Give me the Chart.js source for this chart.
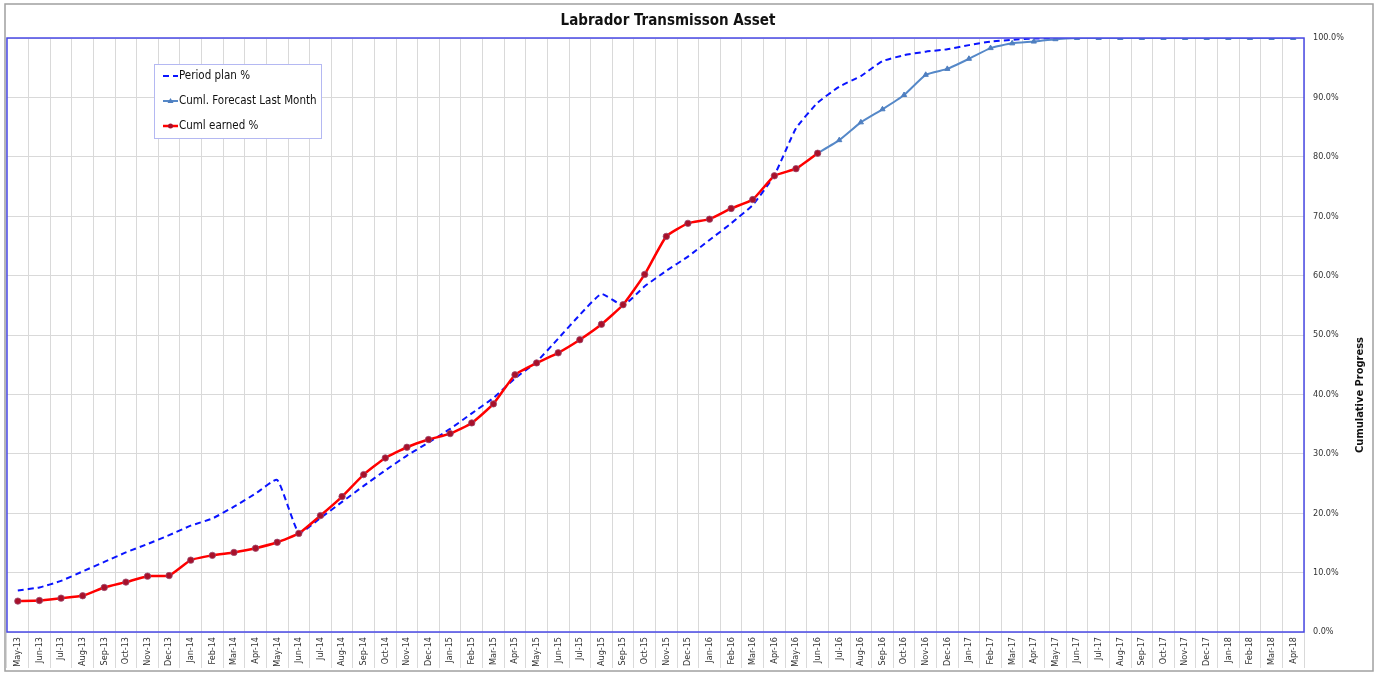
<!DOCTYPE html>
<html>
<head>
<meta charset="utf-8">
<script src="https://cdn.jsdelivr.net/npm/chart.js@4"></script>
<style>
  html, body { margin: 0; padding: 0; background: #fff; }
  #wrap { position: relative; width: 1378px; height: 673px; }
</style>
</head>
<body>
<div id="wrap"><canvas id="progressChart" width="1378" height="673"></canvas></div>
<script>
var FONT = "'Liberation Sans Narrow', 'DejaVu Sans Condensed', 'Open Sans', sans-serif";

var months = [
  'May-13','Jun-13','Jul-13','Aug-13','Sep-13','Oct-13','Nov-13','Dec-13',
  'Jan-14','Feb-14','Mar-14','Apr-14','May-14','Jun-14','Jul-14','Aug-14','Sep-14','Oct-14','Nov-14','Dec-14',
  'Jan-15','Feb-15','Mar-15','Apr-15','May-15','Jun-15','Jul-15','Aug-15','Sep-15','Oct-15','Nov-15','Dec-15',
  'Jan-16','Feb-16','Mar-16','Apr-16','May-16','Jun-16','Jul-16','Aug-16','Sep-16','Oct-16','Nov-16','Dec-16',
  'Jan-17','Feb-17','Mar-17','Apr-17','May-17','Jun-17','Jul-17','Aug-17','Sep-17','Oct-17','Nov-17','Dec-17',
  'Jan-18','Feb-18','Mar-18','Apr-18'
];

// Period plan % (cumulative)
var planPct = [
  7.0, 7.5, 8.6, 10.2, 11.8, 13.4, 14.8, 16.3,
  17.9, 19.1, 21.1, 23.3, 25.6, 16.7, 19.2, 21.9, 24.6, 27.2, 29.7, 31.9,
  34.2, 36.8, 39.4, 42.7, 45.5, 49.4, 53.4, 56.9, 55.0, 58.2, 60.8, 63.2,
  66.0, 68.8, 71.9, 76.9, 84.8, 89.1, 91.8, 93.6, 96.1, 97.1, 97.7, 98.1,
  98.8, 99.4, 99.7, 99.9, 100, 100, 100, 100, 100, 100, 100, 100,
  100, 100, 100, 100
];

// Cuml. Forecast Last Month (starts at the last earned month)
var forecastPct = [
  null, null, null, null, null, null, null, null,
  null, null, null, null, null, null, null, null, null, null, null, null,
  null, null, null, null, null, null, null, null, null, null, null, null,
  null, null, null, null, null, 80.6, 82.8, 85.8, 88.0, 90.4, 93.8, 94.8,
  96.5, 98.3, 99.1, 99.4, 99.8, 100, 100, 100, 100, 100, 100, 100,
  100, 100, 100, 100
];

// Cuml earned %
var earnedPct = [
  5.2, 5.3, 5.7, 6.1, 7.5, 8.4, 9.4, 9.5,
  12.1, 12.9, 13.4, 14.1, 15.1, 16.6, 19.6, 22.8, 26.5, 29.3, 31.1, 32.4,
  33.4, 35.2, 38.4, 43.3, 45.3, 47.0, 49.2, 51.8, 55.1, 60.2, 66.6, 68.8,
  69.5, 71.3, 72.8, 76.8, 78.0, 80.6
];

var yTicks = [0, 10, 20, 30, 40, 50, 60, 70, 80, 90, 100];

// frame, title, axis title and the legend box
var decor = {
  id: 'decor',
  afterDraw: function(chart) {
    var ctx = chart.ctx, a = chart.chartArea;
    ctx.save();
    ctx.strokeStyle = '#a0a0a0';
    ctx.lineWidth = 1.5;
    ctx.strokeRect(5, 4, 1368, 667);
    ctx.strokeStyle = '#4a4ae6';
    ctx.lineWidth = 1.5;
    ctx.strokeRect(a.left, a.top, a.right - a.left, a.bottom - a.top);

    ctx.fillStyle = '#111';
    ctx.font = 'bold 15px ' + FONT;
    ctx.textAlign = 'center';
    ctx.textBaseline = 'middle';
    ctx.fillText('Labrador Transmisson Asset', 668, 21);

    ctx.translate(1360, 395);
    ctx.rotate(-Math.PI / 2);
    ctx.font = 'bold 11px ' + FONT;
    ctx.fillText('Cumulative Progress', 0, 0);
    ctx.restore();

    // legend
    ctx.save();
    ctx.fillStyle = '#fff';
    ctx.fillRect(154, 64, 167, 74);
    ctx.strokeStyle = '#b4b8f2';
    ctx.lineWidth = 1;
    ctx.strokeRect(154.5, 64.5, 167, 74);
    var rows = [76, 101, 126];
    chart.data.datasets.forEach(function(ds, i) {
      var y = rows[i];
      ctx.strokeStyle = ds.borderColor;
      ctx.lineWidth = ds.borderWidth;
      ctx.setLineDash(ds.borderDash || []);
      ctx.beginPath();
      ctx.moveTo(163, y);
      ctx.lineTo(178, y);
      ctx.stroke();
      ctx.setLineDash([]);
      if (ds.pointStyle === 'triangle') {
        ctx.fillStyle = ds.pointBackgroundColor;
        ctx.beginPath();
        ctx.moveTo(170.5, y - 3);
        ctx.lineTo(173.5, y + 2);
        ctx.lineTo(167.5, y + 2);
        ctx.closePath();
        ctx.fill();
      } else if (ds.pointRadius) {
        ctx.fillStyle = ds.pointBackgroundColor;
        ctx.beginPath();
        ctx.arc(170.5, y, 2.5, 0, Math.PI * 2);
        ctx.fill();
      }
      ctx.fillStyle = '#111';
      ctx.font = '11.5px ' + FONT;
      ctx.textAlign = 'left';
      ctx.textBaseline = 'middle';
      ctx.fillText(ds.label, 179, y);
    });
    ctx.restore();
  }
};

new Chart(document.getElementById('progressChart'), {
  type: 'line',
  data: {
    labels: months,
    datasets: [
      { label: 'Period plan %', data: planPct, borderColor: '#0a14ff', borderWidth: 2,
        borderDash: [6, 4], pointRadius: 0, tension: 0.15, order: 3 },
      { label: 'Cuml. Forecast Last Month', data: forecastPct, borderColor: '#5588c8', borderWidth: 2,
        pointStyle: 'triangle', pointRadius: 3, pointBackgroundColor: '#4f7fc0', pointBorderColor: '#4f7fc0',
        pointBorderWidth: 1, tension: 0.15, order: 2 },
      { label: 'Cuml earned %', data: earnedPct, borderColor: '#ff0000', borderWidth: 2.5,
        pointStyle: 'circle', pointRadius: 3.2, pointBackgroundColor: '#a8102a', pointBorderColor: '#9b4b70',
        pointBorderWidth: 0.8, tension: 0.15, order: 1 }
    ]
  },
  options: {
    responsive: false,
    animation: false,
    layout: { padding: { left: 7, top: 38, right: 0, bottom: 0 } },
    plugins: { legend: { display: false }, tooltip: { enabled: false }, title: { display: false } },
    scales: {
      x: {
        offset: true,
        grid: { offset: true, color: '#d9d9d9', lineWidth: 1, tickLength: 36, tickColor: '#d9d9d9' },
        border: { display: false },
        ticks: { autoSkip: false, maxRotation: 90, minRotation: 90, padding: -31,
                 color: '#333', font: { family: FONT, size: 9 } },
        afterFit: function(s) { s.height = 41; }
      },
      y: {
        position: 'right',
        min: 0, max: 100,
        afterBuildTicks: function(s) { s.ticks = yTicks.map(function(v) { return { value: v }; }); },
        grid: { color: '#d9d9d9', drawTicks: false },
        border: { display: false },
        ticks: { padding: 9, color: '#333', font: { family: FONT, size: 9 },
                 callback: function(v) { return v.toFixed(1) + '%'; } },
        afterFit: function(s) { s.width = 74; }
      }
    }
  },
  plugins: [decor]
});
</script>
</body>
</html>
